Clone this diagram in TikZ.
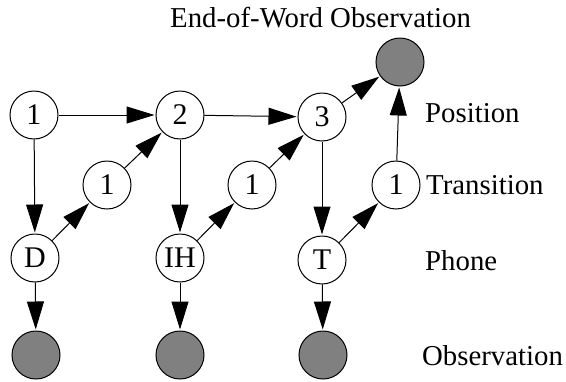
\documentclass[tikz,border=0pt]{standalone}
\usepackage{fontspec}
\setmainfont{Liberation Serif}
\usetikzlibrary{arrows.meta}
\begin{document}
\begin{tikzpicture}[x=1pt,y=-1pt,
  var/.style={circle,draw,line width=1pt,minimum size=48pt,inner sep=0pt,font=\fontsize{30}{32}\selectfont},
  obs/.style={circle,draw,line width=1pt,minimum size=48pt,inner sep=0pt,fill={rgb,255:red,128;green,128;blue,128}},
  lab/.style={anchor=base west,inner sep=0pt,font=\fontsize{28.8}{30}\selectfont},
  edge/.style={line width=1pt,-{Triangle[length=28pt,width=17pt]},shorten >=1pt}]
\useasboundingbox (0,0) rectangle (566,381);
\node[var] (p1) at (34,115) {1};
\node[var] (p2) at (180,115) {2};
\node[var] (p3) at (322,117) {3};
\node[var] (t1) at (107,185) {1};
\node[var] (t2) at (252,185) {1};
\node[var] (t3) at (396,185) {1};
\node[var] (ph1) at (35,258) {D};
\node[var] (ph2) at (180,258) {IH};
\node[var] (ph3) at (322,260) {T};
\node[obs] (o1) at (36,355) {};
\node[obs] (o2) at (180,355) {};
\node[obs] (o3) at (323,355) {};
\node[obs] (eow) at (400,62) {};
\node[lab] (l0) at (170,27) {End-of-Word Observation};
\node[lab] (l1) at (425,122) {Position};
\node[lab] (l2) at (426,194) {Transition};
\node[lab] (l3) at (425,270) {Phone};
\node[lab] (l4) at (422,365) {Observation};
\draw[edge] (p1) -- (p2);
\draw[edge] (p2) -- (p3);
\draw[edge] (p3) -- (eow);
\draw[edge] (t3) -- (eow);
\draw[edge] (p1) -- (ph1);
\draw[edge] (p2) -- (ph2);
\draw[edge] (p3) -- (ph3);
\draw[edge] (ph1) -- (t1);
\draw[edge] (t1) -- (p2);
\draw[edge] (ph2) -- (t2);
\draw[edge] (t2) -- (p3);
\draw[edge] (ph3) -- (t3);
\draw[edge] (ph1) -- (o1);
\draw[edge] (ph2) -- (o2);
\draw[edge] (ph3) -- (o3);
\end{tikzpicture}
\end{document}
